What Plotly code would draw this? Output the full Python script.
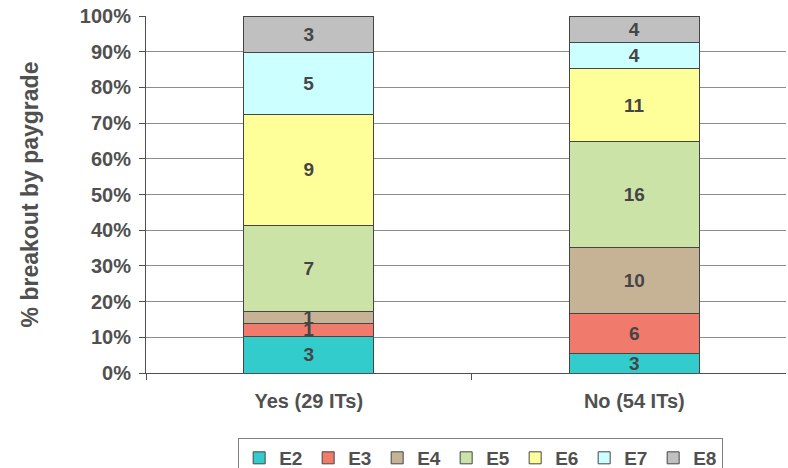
import plotly.graph_objects as go

# Investigation groups and the count of ITs per paygrade in each group
groups = ["Yes (29 ITs)", "No (54 ITs)"]
paygrades = ["E2", "E3", "E4", "E5", "E6", "E7", "E8"]
counts_yes = [3, 1, 1, 7, 9, 5, 3]
counts_no = [3, 6, 10, 16, 11, 4, 4]
colors = ["#33CCCC", "#F07A6C", "#C6B396", "#CCE3A8", "#FFFF99", "#CCFFFF", "#C0C0C0"]

total_yes = sum(counts_yes)
total_no = sum(counts_no)

TEXT = "#505050"
FONT = "Liberation Sans, Arial, sans-serif"

fig = go.Figure()
for i, grade in enumerate(paygrades):
    c = [counts_yes[i], counts_no[i]]
    share = [counts_yes[i] / total_yes * 100, counts_no[i] / total_no * 100]
    fig.add_trace(go.Bar(
        name=grade,
        x=groups,
        y=share,
        text=[str(v) for v in c],
        textposition="inside",
        insidetextanchor="middle",
        textangle=0,
        constraintext="none",
        textfont=dict(family=FONT, size=19, color="#454545", weight="bold"),
        marker=dict(color=colors[i], line=dict(color="#454545", width=1)),
        width=0.40,
        hoverinfo="skip",
    ))

fig.update_layout(
    barmode="stack",
    width=788,
    height=468,
    margin=dict(l=146, r=2, t=16, b=95, autoexpand=False),
    paper_bgcolor="white",
    plot_bgcolor="white",
    font=dict(family=FONT, color=TEXT, weight="bold"),
    uniformtext=dict(minsize=19, mode="show"),
    showlegend=True,
    legend=dict(
        orientation="h",
        x=0.144, xanchor="left",
        y=-0.182, yanchor="top",
        bordercolor="#808080", borderwidth=1,
        font=dict(family=FONT, size=19, color=TEXT, weight="bold"),
        entrywidth=24, entrywidthmode="pixels",
        itemwidth=30,
        traceorder="normal",
    ),
    xaxis=dict(
        tickson="boundaries",
        ticks="outside", ticklen=6, tickcolor="#505050",
        showline=True, linecolor="#505050", linewidth=1,
        tickfont=dict(family=FONT, size=20, color=TEXT, weight="bold"),
        ticklabelstandoff=10,
        range=[-0.5, 1.466],
    ),
    yaxis=dict(
        range=[0, 100],
        tickvals=list(range(0, 101, 10)),
        ticktext=[f"{v}%" for v in range(0, 101, 10)],
        ticks="outside", ticklen=6, tickcolor="#505050",
        showline=True, linecolor="#505050", linewidth=1,
        showgrid=True, gridcolor="#8C8C8C", gridwidth=1,
        zeroline=False,
        ticklabelstandoff=4,
        tickfont=dict(family=FONT, size=20, color=TEXT, weight="bold"),
        title=dict(text="% breakout by paygrade", standoff=34,
                   font=dict(family=FONT, size=23, color=TEXT, weight="bold")),
    ),
)

fig.write_html("out.html")
